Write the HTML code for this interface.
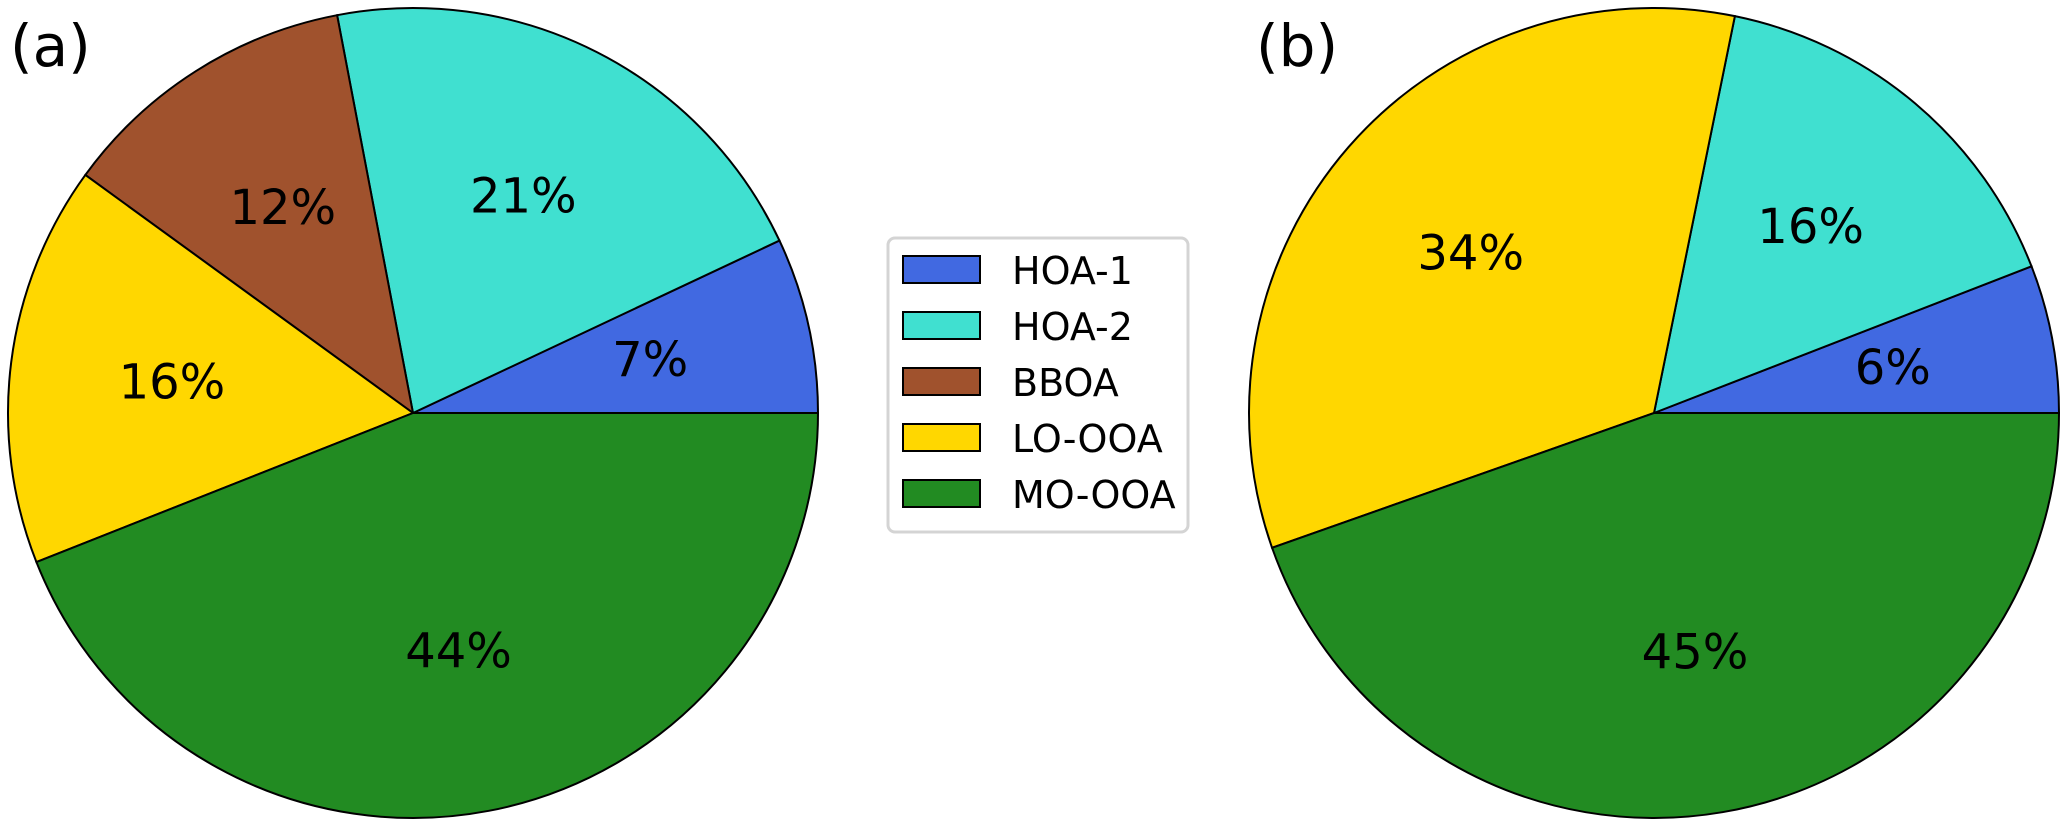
<!DOCTYPE html>
<html><head><meta charset="utf-8">
<style>
html,body{margin:0;padding:0;background:#fff;}
svg{display:block;}
text{font-family:"DejaVu Sans","Liberation Sans",sans-serif;}
</style></head>
<body>
<svg id="chart" width="2067" height="826" viewBox="0 0 2067 826" xmlns="http://www.w3.org/2000/svg">
  <text x="10" y="66" font-size="58">(a)</text>
  <text x="1256" y="66" font-size="58">(b)</text>
  <g id="pieA"></g>
  <g id="pieB"></g>
  <g id="legend">
    <rect x="888" y="238" width="300" height="294" rx="7" fill="#fff" stroke="#d4d4d4" stroke-width="3"/>
  </g>
</svg>
<script>
const categories = ["HOA-1","HOA-2","BBOA","LO-OOA","MO-OOA"];
const colors = ["#4169e1","#40e0d0","#a0522d","#ffd700","#228b22"];
const valuesA = [7, 21, 12, 16, 44];
const valuesB = [5.9, 15.9, 0, 33.6, 44.6];
const labelsA = ["7%","21%","12%","16%","44%"];
const labelsB = ["6%","16%","","34%","45%"];

const NS = "http://www.w3.org/2000/svg";
function drawPie(gid, cx, cy, r, vals, labels, prefix){
  const g = document.getElementById(gid);
  const total = vals.reduce((a,b)=>a+b,0);
  let acc = 0;
  vals.forEach((v,i)=>{
    if(v<=0) return;
    const a0 = acc/total*2*Math.PI;
    acc += v;
    const a1 = acc/total*2*Math.PI;
    const x0 = cx + r*Math.cos(a0), y0 = cy - r*Math.sin(a0);
    const x1 = cx + r*Math.cos(a1), y1 = cy - r*Math.sin(a1);
    const large = (a1-a0) > Math.PI ? 1 : 0;
    const p = document.createElementNS(NS,"path");
    p.setAttribute("d",`M${cx},${cy} L${x0},${y0} A${r},${r} 0 ${large} 0 ${x1},${y1} Z`);
    p.setAttribute("fill",colors[i]);
    p.setAttribute("stroke","#000");
    p.setAttribute("stroke-width","2");
    
    
    g.appendChild(p);
    const am = (a0+a1)/2;
    const t = document.createElementNS(NS,"text");
    t.setAttribute("x", cx + 0.6*r*Math.cos(am));
    t.setAttribute("y", cy - 0.6*r*Math.sin(am));
    t.setAttribute("font-size","48");
    t.setAttribute("text-anchor","middle");
    t.setAttribute("dominant-baseline","central");
    t.textContent = labels[i];
    
    
    g.appendChild(t);
  });
}
drawPie("pieA", 413, 413, 405, valuesA, labelsA, "pie-a");
drawPie("pieB", 1654, 413, 405, valuesB, labelsB, "pie-b");

const lg = document.getElementById("legend");
categories.forEach((c,i)=>{
  const y = 256 + i*56;
  const r = document.createElementNS(NS,"rect");
  r.setAttribute("x",903); r.setAttribute("y",y);
  r.setAttribute("width",77); r.setAttribute("height",27);
  r.setAttribute("fill",colors[i]); r.setAttribute("stroke","#000"); r.setAttribute("stroke-width","2");
  
  
  lg.appendChild(r);
  const t = document.createElementNS(NS,"text");
  t.setAttribute("x",1012); t.setAttribute("y",y+28);
  t.setAttribute("font-size","38");
  t.textContent = c;
  
  
  lg.appendChild(t);
});
</script>
</body></html>
